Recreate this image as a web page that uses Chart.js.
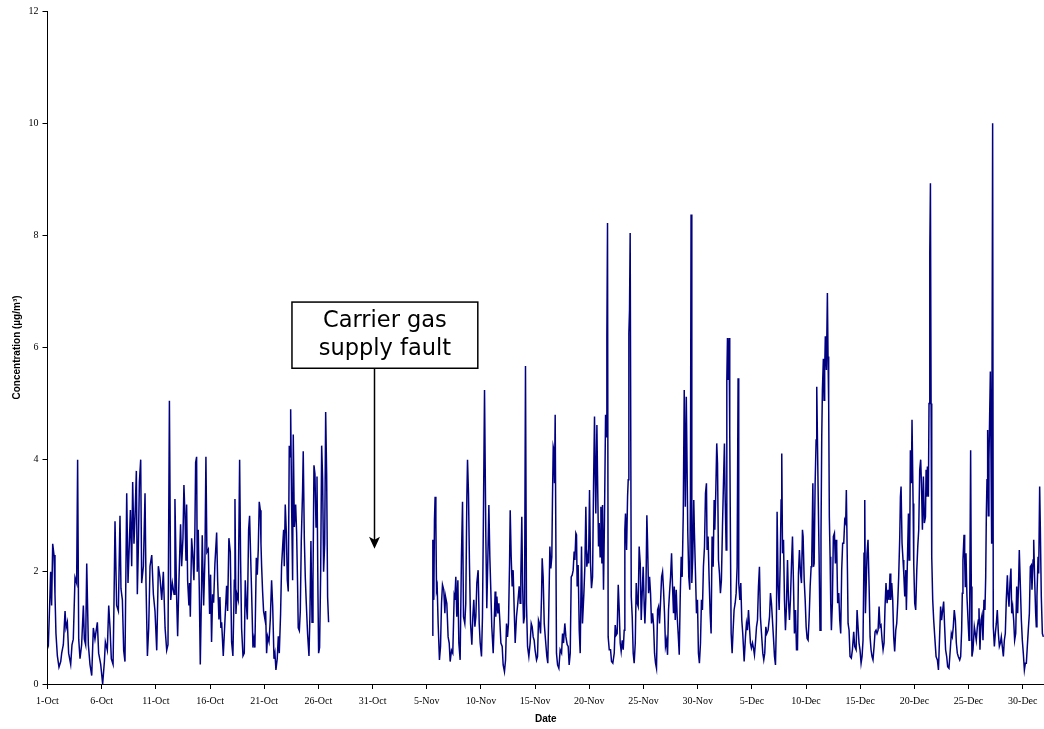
<!DOCTYPE html>
<html>
<head>
<meta charset="utf-8">
<script src="https://cdn.jsdelivr.net/npm/chart.js@4/dist/chart.umd.min.js"></script>
<style>
  html, body { margin: 0; padding: 0; background: #fff; }
  #wrap { width: 1044px; height: 729px; }
</style>
</head>
<body>
<div id="wrap"><canvas id="GraficoConc" width="1044" height="729"></canvas></div>
<script>
// x = days since 1-Oct 00:00, y = concentration (ug/m3)
const octData = [
  [0,0.75],[0.08,0.7],[0.23,1.6],[0.29,2.0],[0.38,1.4],[0.48,2.5],[0.6,2.3],[0.69,1.6],[0.78,0.9],[0.91,0.5],
  [1.06,0.3],[1.22,0.4],[1.31,0.55],[1.46,0.7],[1.62,1.3],[1.71,1.0],[1.83,1.1],[1.95,0.55],[2.14,0.35],[2.26,0.7],
  [2.38,0.8],[2.54,1.9],[2.69,1.8],[2.78,4.0],[2.88,0.8],[3.0,0.45],[3.15,0.7],[3.31,1.4],[3.4,0.8],[3.52,0.7],
  [3.62,2.15],[3.77,0.7],[3.92,0.35],[4.08,0.15],[4.23,1.0],[4.38,0.8],[4.6,1.1],[4.72,0.55],[4.91,0.35],[5.09,0.0],
  [5.25,0.4],[5.34,0.75],[5.52,0.6],[5.65,1.4],[5.77,1.0],[5.89,0.45],[6.05,0.35],[6.14,1.5],[6.23,2.9],[6.38,1.4],
  [6.54,1.3],[6.69,3.0],[6.78,1.7],[6.91,1.5],[7.03,0.6],[7.15,0.4],[7.31,3.4],[7.43,1.8],[7.55,2.5],[7.65,3.1],
  [7.77,2.1],[7.86,3.6],[7.98,2.5],[8.08,3.0],[8.2,3.8],[8.29,1.6],[8.38,2.4],[8.48,3.6],[8.6,4.0],[8.69,1.8],
  [8.85,2.1],[9.0,3.4],[9.09,1.8],[9.22,0.5],[9.34,1.0],[9.46,2.1],[9.62,2.3],[9.77,1.6],[9.92,1.3],[10.08,0.6],
  [10.23,2.1],[10.38,1.9],[10.54,1.5],[10.69,2.0],[10.85,1.0],[11.0,0.6],[11.12,0.7],[11.25,5.05],[11.37,1.5],[11.52,1.8],
  [11.68,1.6],[11.76,3.3],[11.91,1.6],[12.01,0.85],[12.13,1.85],[12.28,2.85],[12.38,2.1],[12.5,2.6],[12.59,3.55],[12.68,3.05],
  [12.78,2.2],[12.84,3.2],[12.93,1.85],[13.05,1.4],[13.11,1.8],[13.18,1.2],[13.3,2.6],[13.39,2.35],[13.51,1.85],[13.6,2.7],
  [13.67,3.95],[13.76,4.05],[13.82,2.0],[13.91,2.75],[14.01,1.65],[14.1,0.35],[14.22,1.75],[14.28,2.65],[14.41,1.4],[14.53,2.25],
  [14.62,4.05],[14.71,2.35],[14.84,2.4],[14.96,1.25],[15.05,1.95],[15.14,0.75],[15.24,1.6],[15.33,1.45],[15.45,2.15],[15.61,2.7],
  [15.7,1.85],[15.82,1.15],[15.91,1.55],[16.0,1.0],[16.07,1.1],[16.22,0.5],[16.38,1.15],[16.53,1.75],[16.62,1.3],[16.74,2.6],
  [16.87,2.35],[16.99,0.75],[17.11,0.5],[17.24,1.85],[17.3,3.3],[17.39,1.25],[17.48,1.6],[17.6,1.5],[17.73,4.0],[17.82,2.2],
  [17.91,1.0],[18.04,0.5],[18.16,0.55],[18.25,1.85],[18.34,1.45],[18.44,1.15],[18.56,2.75],[18.65,3.0],[18.71,2.55],[18.84,1.6],
  [18.96,0.65],[19.05,0.8],[19.14,0.65],[19.27,2.25],[19.36,1.95],[19.45,2.4],[19.54,3.25],[19.64,3.1],[19.7,2.5],[19.76,2.1],
  [19.85,1.65],[19.94,1.3],[20.07,1.15],[20.13,1.3],[20.22,0.55],[20.31,0.85],[20.44,0.75],[20.56,1.15],[20.68,1.85],[20.78,1.4],
  [20.9,0.45],[20.99,0.55],[21.08,0.25],[21.2,0.45],[21.3,0.85],[21.39,0.55],[21.51,1.25],[21.6,2.1],[21.7,2.45],[21.79,2.75],
  [21.85,2.1],[21.94,3.2],[22.04,2.7],[22.13,1.85],[22.22,1.65],[22.31,4.25],[22.38,4.05],[22.44,4.9],[22.53,3.15],[22.62,1.85],
  [22.68,4.45],[22.78,2.8],[22.9,3.2],[22.99,2.7],[23.08,1.75],[23.14,1.0],[23.24,0.95],[23.33,1.3],[23.42,2.55],[23.54,3.45],
  [23.6,4.15],[23.7,2.6],[23.79,1.9],[23.88,1.45],[24.0,0.9],[24.13,0.5],[24.22,1.25],[24.31,2.55],[24.41,1.1],[24.5,1.85],
  [24.59,3.9],[24.68,3.75],[24.78,2.8],[24.87,3.7],[24.96,1.6],[25.02,0.55],[25.11,0.65],[25.21,2.0],[25.3,4.25],[25.39,3.65],
  [25.48,2.0],[25.58,2.5],[25.67,4.85],[25.76,3.75],[25.85,1.55],[25.94,1.1]
];

const novData = [
  [35.5,0.87],[35.56,2.57],[35.65,1.5],[35.71,2.92],[35.77,3.34],[35.84,2.87],[35.9,1.68],[35.96,1.74],[36.05,1.08],[36.17,0.43],
  [36.27,0.67],[36.36,1.44],[36.45,1.77],[36.57,1.68],[36.67,1.26],[36.73,1.56],[36.85,1.44],[36.97,0.84],[37.07,0.73],[37.16,0.4],
  [37.28,0.6],[37.4,0.55],[37.53,1.56],[37.59,1.5],[37.68,1.91],[37.77,1.2],[37.87,1.85],[37.96,0.73],[38.08,0.43],[38.2,2.27],
  [38.3,3.25],[38.39,1.2],[38.51,1.08],[38.6,1.44],[38.7,3.34],[38.76,4.0],[38.85,3.4],[38.94,2.15],[39.04,1.08],[39.16,0.7],
  [39.25,1.2],[39.34,1.5],[39.44,1.02],[39.53,1.2],[39.62,1.8],[39.74,2.03],[39.84,1.08],[39.93,0.73],[40.05,0.49],[40.14,1.2],
  [40.24,3.22],[40.33,5.24],[40.45,2.63],[40.54,1.35],[40.64,2.27],[40.73,3.19],[40.82,2.27],[40.91,1.68],[41.0,1.02],[41.13,0.55],
  [41.22,1.08],[41.31,1.65],[41.37,1.2],[41.47,1.56],[41.56,1.26],[41.65,1.44],[41.74,1.14],[41.84,0.73],[41.96,0.67],[42.05,0.34],
  [42.17,0.22],[42.27,0.43],[42.36,1.08],[42.45,0.84],[42.54,1.08],[42.64,2.15],[42.7,3.1],[42.79,2.27],[42.88,1.74],[42.97,2.03],
  [43.07,1.32],[43.16,0.73],[43.28,1.2],[43.4,1.44],[43.53,1.74],[43.62,1.44],[43.68,1.91],[43.77,2.98],[43.84,1.8],[43.93,1.08],
  [44.02,1.2],[44.11,5.67],[44.2,1.44],[44.3,0.67],[44.42,0.49],[44.54,0.73],[44.64,1.08],[44.73,1.02],[44.82,0.84],[44.91,0.78],
  [45.0,0.6],[45.13,0.43],[45.22,0.49],[45.31,1.14],[45.4,1.08],[45.5,0.9],[45.59,1.56],[45.65,2.24],[45.74,1.91],[45.84,1.08],
  [45.96,0.78],[46.08,0.49],[46.17,0.37],[46.27,1.44],[46.36,2.45],[46.45,2.06],[46.54,2.27],[46.6,3.28],[46.67,4.23],[46.73,4.17],
  [46.79,3.58],[46.85,4.8],[46.97,0.55],[47.07,0.34],[47.19,0.28],[47.31,0.61],[47.44,0.55],[47.53,0.9],[47.62,0.73],[47.74,1.08],
  [47.84,0.84],[47.96,0.7],[48.05,0.67],[48.14,0.34],[48.24,0.55],[48.33,1.91],[48.42,1.94],[48.51,2.03],[48.6,2.36],[48.67,2.21],
  [48.76,2.69],[48.82,2.66],[48.88,1.74],[48.97,2.12],[49.07,0.96],[49.16,0.55],[49.28,2.45],[49.37,1.08],[49.5,1.62],[49.59,2.09],
  [49.68,3.16],[49.77,2.09],[49.87,2.27],[49.93,2.15],[50.02,3.46],[50.11,2.15],[50.2,1.71],[50.3,1.91],[50.39,3.52],[50.48,4.77],
  [50.54,3.82],[50.6,3.04],[50.7,4.62],[50.76,3.7],[50.85,2.45],[50.91,2.87],[51.0,2.27],[51.07,3.16],[51.16,2.15],[51.22,3.19],
  [51.31,1.68],[51.4,2.93],[51.5,4.8],[51.56,4.41],[51.62,6.2],[51.68,8.22],[51.74,0.84],[51.84,0.61],[51.96,0.61],[52.05,0.4],
  [52.17,0.37],[52.3,0.55],[52.39,1.05],[52.48,0.87],[52.57,0.9],[52.67,1.77],[52.76,1.32],[52.85,0.73],[52.94,0.58],[53.04,0.78],
  [53.13,0.61],[53.22,0.96],[53.28,2.75],[53.34,3.04],[53.44,2.39],[53.53,3.34],[53.59,3.64],[53.65,6.25],[53.71,6.67],[53.77,8.04],
  [53.87,1.56],[53.96,1.2],[54.05,0.55],[54.14,0.37],[54.24,0.73],[54.33,1.8],[54.42,1.44],[54.51,1.38],[54.6,2.45],[54.7,2.15],
  [54.79,1.14],[54.88,1.62],[54.97,2.09],[55.07,1.38],[55.13,1.08],[55.22,1.56],[55.31,3.01],[55.37,2.57],[55.47,1.62],[55.56,1.91],
  [55.65,1.62],[55.74,1.08],[55.84,1.26],[55.93,1.05],[56.02,0.55],[56.11,0.37],[56.2,0.28],[56.3,1.32],[56.39,1.38],[56.48,1.08],
  [56.57,1.44],[56.67,1.91],[56.76,2.0],[56.85,1.68],[56.94,1.26],[57.03,0.67],[57.13,0.78],[57.22,0.52],[57.31,1.32],[57.4,1.62],
  [57.5,1.91],[57.59,2.33],[57.68,1.74],[57.77,1.26],[57.84,1.74],[57.93,1.14],[58.02,1.68],[58.11,1.2],[58.2,0.9],[58.3,0.52],
  [58.39,1.56],[58.48,2.27],[58.57,1.91],[58.67,3.04],[58.76,5.24],[58.86,3.16],[58.95,5.12],[59.09,2.69],[59.18,1.91],[59.27,1.68],
  [59.33,3.28],[59.39,8.37],[59.46,1.8],[59.55,2.27],[59.64,3.28],[59.7,2.69],[59.79,2.03],[59.89,1.26],[59.98,1.5]
];

const decData = [
  [60.07,0.55],[60.16,0.37],[60.26,0.73],[60.35,1.5],[60.44,1.32],[60.53,2.09],[60.63,2.45],[60.72,3.4],[60.81,3.58],[60.87,2.39],
  [60.96,2.63],[61.06,1.85],[61.15,1.26],[61.24,0.9],[61.33,2.63],[61.43,2.09],[61.52,3.28],[61.58,2.75],[61.67,3.4],[61.76,4.29],
  [61.83,3.94],[61.92,2.21],[62.01,1.97],[62.1,1.62],[62.19,1.85],[62.29,2.81],[62.38,3.58],[62.47,4.29],[62.53,3.4],[62.63,2.39],
  [62.69,5.42],[62.75,6.17],[62.81,5.42],[62.9,6.17],[62.96,4.47],[63.03,2.39],[63.09,0.9],[63.18,0.55],[63.27,0.96],[63.36,1.32],
  [63.46,1.44],[63.55,1.62],[63.64,2.09],[63.73,5.45],[63.79,1.8],[63.89,1.5],[63.98,1.8],[64.07,1.14],[64.16,0.9],[64.29,0.4],
  [64.41,0.84],[64.5,1.08],[64.59,0.96],[64.69,1.32],[64.78,1.02],[64.87,0.73],[64.96,0.64],[65.06,0.73],[65.15,0.64],[65.24,0.52],
  [65.33,0.73],[65.43,1.02],[65.52,1.14],[65.61,1.74],[65.7,2.09],[65.79,1.2],[65.89,0.9],[66.01,0.55],[66.1,0.43],[66.19,0.55],
  [66.29,1.02],[66.38,0.9],[66.5,0.96],[66.63,1.2],[66.72,1.62],[66.81,1.44],[66.9,1.14],[66.99,0.84],[67.09,0.49],[67.18,0.34],
  [67.27,1.14],[67.33,3.07],[67.43,1.74],[67.52,1.32],[67.61,2.09],[67.7,3.28],[67.76,4.11],[67.83,2.33],[67.92,2.57],[68.01,1.5],
  [68.1,0.96],[68.19,1.38],[68.29,2.21],[68.38,1.5],[68.47,1.14],[68.56,1.5],[68.66,2.15],[68.75,2.63],[68.84,1.8],[68.93,0.9],
  [69.03,1.32],[69.12,0.61],[69.21,0.61],[69.3,1.97],[69.39,2.39],[69.49,1.97],[69.58,1.8],[69.67,2.75],[69.73,2.63],[69.83,1.85],
  [69.92,1.5],[70.01,1.02],[70.1,0.81],[70.19,0.78],[70.29,1.2],[70.38,1.74],[70.47,2.09],[70.53,2.24],[70.63,3.58],[70.69,2.09],
  [70.75,2.15],[70.84,3.58],[70.93,4.35],[70.99,5.3],[71.11,3.52],[71.2,2.33],[71.29,0.96],[71.38,2.63],[71.45,4.41],[71.51,5.24],
  [71.6,5.8],[71.66,5.06],[71.72,5.6],[71.78,6.2],[71.88,5.6],[71.97,6.97],[72.03,5.84],[72.09,5.0],[72.15,2.98],[72.22,2.27],
  [72.28,1.44],[72.34,0.96],[72.43,1.44],[72.52,2.63],[72.62,2.69],[72.71,2.15],[72.77,2.57],[72.83,2.45],[72.92,1.44],[73.02,1.62],
  [73.11,1.14],[73.2,0.9],[73.29,2.03],[73.38,2.51],[73.48,2.51],[73.57,2.92],[73.66,2.87],[73.72,3.46],[73.82,2.03],[73.88,1.08],
  [73.97,0.96],[74.06,0.49],[74.18,0.46],[74.28,0.61],[74.4,0.93],[74.49,0.67],[74.62,0.61],[74.71,1.32],[74.8,1.02],[74.89,0.73],
  [74.98,0.61],[75.08,0.37],[75.17,0.49],[75.26,0.78],[75.35,2.33],[75.42,3.28],[75.48,1.26],[75.57,1.91],[75.63,2.33],[75.72,2.57],
  [75.82,1.74],[75.91,0.84],[76.0,0.61],[76.09,0.49],[76.18,0.43],[76.28,0.67],[76.37,0.93],[76.46,0.96],[76.55,0.9],[76.65,0.96],
  [76.74,1.38],[76.83,1.02],[76.92,1.05],[77.02,0.78],[77.11,0.61],[77.2,0.73],[77.29,1.38],[77.38,1.8],[77.48,1.44],[77.57,1.68],
  [77.66,1.5],[77.75,1.97],[77.82,1.5],[77.91,1.8],[78.0,1.5],[78.09,0.84],[78.18,0.58],[78.28,0.96],[78.37,1.08],[78.46,1.44],
  [78.55,1.91],[78.65,2.63],[78.71,3.34],[78.77,3.52],[78.86,2.51],[78.95,2.21],[79.02,1.97],[79.11,1.56],[79.2,2.03],[79.26,1.32],
  [79.35,2.15],[79.45,3.04],[79.51,2.21],[79.57,2.51],[79.63,4.17],[79.72,3.58],[79.78,4.71],[79.88,3.22],[79.94,2.15],[80.03,1.44],
  [80.12,1.32],[80.22,2.03],[80.31,2.45],[80.4,2.75],[80.49,3.82],[80.58,4.0],[80.65,3.58],[80.74,2.75],[80.83,3.7],[80.92,2.87],
  [81.02,2.98],[81.08,3.82],[81.14,3.34],[81.2,3.88],[81.29,3.34],[81.35,5.0],[81.42,7.68],[81.48,8.93],[81.54,5.0],[81.6,2.27],
  [81.69,1.5],[81.78,1.14],[81.88,0.84],[82.0,0.49],[82.12,0.43],[82.22,0.25],[82.42,1.38],[82.51,1.14],[82.61,1.32],[82.7,1.47],
  [82.79,1.02],[82.88,0.61],[82.98,0.49],[83.07,0.31],[83.19,0.28],[83.31,0.61],[83.41,0.9],[83.5,0.84],[83.59,1.02],[83.68,1.32],
  [83.78,1.14],[83.87,0.73],[83.96,0.55],[84.05,0.49],[84.18,0.43],[84.27,0.49],[84.36,0.96],[84.42,1.62],[84.48,2.21],[84.58,2.66],
  [84.64,2.21],[84.7,1.74],[84.76,2.33],[84.85,1.56],[84.95,1.14],[85.04,0.78],[85.1,1.26],[85.19,4.17],[85.25,1.74],[85.31,0.49],
  [85.41,0.61],[85.53,1.02],[85.62,0.9],[85.71,0.78],[85.81,1.02],[85.9,1.14],[85.96,1.35],[86.05,0.61],[86.15,1.14],[86.24,1.23],
  [86.33,0.78],[86.42,1.5],[86.51,1.32],[86.58,1.91],[86.64,3.04],[86.7,3.64],[86.76,4.53],[86.82,3.0],[86.88,4.0],[87.01,5.57],
  [87.13,2.5],[87.22,10.0],[87.28,1.02],[87.38,0.67],[87.47,0.9],[87.56,1.08],[87.65,1.32],[87.75,0.9],[87.84,0.67],[87.93,0.73],
  [88.02,0.84],[88.11,0.67],[88.21,0.49],[88.3,0.78],[88.39,0.9],[88.48,1.5],[88.58,1.94],[88.64,1.62],[88.73,1.38],[88.82,1.8],
  [88.91,2.06],[88.98,1.26],[89.07,1.38],[89.16,1.14],[89.25,0.78],[89.35,0.9],[89.44,1.74],[89.53,1.26],[89.62,1.85],[89.68,2.39],
  [89.78,1.74],[89.87,1.14],[89.96,0.78],[90.05,0.55],[90.15,0.25],[90.24,0.37],[90.33,0.37],[90.42,0.67],[90.51,0.96],[90.61,1.26],
  [90.7,2.09],[90.79,2.12],[90.85,1.68],[90.95,2.21],[91.01,2.57],[91.1,1.85],[91.19,1.26],[91.25,1.02],[91.31,1.56],[91.41,2.27],
  [91.47,1.97],[91.56,3.52],[91.62,2.8],[91.71,1.56],[91.81,0.9],[91.9,0.84]
];

// x axis: a tick every 5 days
const tickDays = [0,5,10,15,20,25,30,35,40,45,50,55,60,65,70,75,80,85,90];
const tickLabels = ['1-Oct','6-Oct','11-Oct','16-Oct','21-Oct','26-Oct','31-Oct','5-Nov','10-Nov','15-Nov',
  '20-Nov','25-Nov','30-Nov','5-Dec','10-Dec','15-Dec','20-Dec','25-Dec','30-Dec'];
const yTicks = [0,2,4,6,8,10,12];

// annotation box and arrow, in chart units (days / ug/m3)
const faultNote = {
  lines: ['Carrier gas', 'supply fault'],
  left: 22.56, right: 39.71, top: 6.81, bottom: 5.63,
  arrowDay: 30.1, arrowTo: 2.41
};

function toPoints(pares) {
  return pares.map(p => ({x: p[0], y: p[1]}));
}

// the fault gap stays empty (null breaks the line)
const serie = toPoints(octData).concat([{x: 30, y: null}], toPoints(novData), toPoints(decData));

const notaPlugin = {
  id: 'faultNote',
  afterDraw(chart) {
    const ctx = chart.ctx;
    const x = chart.scales.x, y = chart.scales.y;
    const l = x.getPixelForValue(faultNote.left), r = x.getPixelForValue(faultNote.right);
    const t = y.getPixelForValue(faultNote.top), b = y.getPixelForValue(faultNote.bottom);
    const ax = Math.round(x.getPixelForValue(faultNote.arrowDay)) + 0.5;
    const ay = y.getPixelForValue(faultNote.arrowTo);
    ctx.save();
    // arrow
    ctx.strokeStyle = '#000';
    ctx.fillStyle = '#000';
    ctx.lineWidth = 1.5;
    ctx.beginPath();
    ctx.moveTo(ax, b);
    ctx.lineTo(ax, ay - 8);
    ctx.stroke();
    ctx.beginPath();
    ctx.moveTo(ax, ay);
    ctx.lineTo(ax - 5.5, ay - 12);
    ctx.lineTo(ax, ay - 9);
    ctx.lineTo(ax + 5.5, ay - 12);
    ctx.closePath();
    ctx.fill();
    // box
    ctx.fillStyle = '#fff';
    ctx.fillRect(l, t, r - l, b - t);
    ctx.strokeRect(l, t, r - l, b - t);
    // text
    ctx.fillStyle = '#000';
    ctx.font = '22.5px "DejaVu Sans", Verdana, sans-serif';
    ctx.textAlign = 'center';
    ctx.textBaseline = 'middle';
    const cx = (l + r) / 2;
    ctx.fillText(faultNote.lines[0], cx, t + 19.5);
    ctx.fillText(faultNote.lines[1], cx, t + 47);
    ctx.restore();
  }
};

const grafico = document.getElementById('GraficoConc');

const graficoConc = new Chart(grafico, {
  type: 'line',
  data: {
    datasets: [{
      label: 'Concentration',
      data: serie,
      borderColor: '#000080',
      borderWidth: 1.5,
      pointRadius: 0,
      tension: 0,
      spanGaps: false,
      fill: false
    }]
  },
  options: {
    responsive: false,
    animation: false,
    devicePixelRatio: 1,
    layout: { padding: { top: 11, right: 0, bottom: 0, left: 0 } },
    plugins: {
      legend: { display: false },
      tooltip: { enabled: false }
    },
    scales: {
      x: {
        type: 'linear',
        min: 0,
        max: 91.96,
        afterFit: (scale) => { scale.height = 45; },
        afterBuildTicks: (scale) => { scale.ticks = tickDays.map(v => ({value: v})); },
        ticks: {
          autoSkip: false,
          maxRotation: 0,
          padding: 6,
          color: '#000',
          font: { family: '"Liberation Serif", "Times New Roman", serif', size: 10 },
          callback: (value) => tickLabels[tickDays.indexOf(value)]
        },
        grid: { display: true, drawOnChartArea: false, drawTicks: true, tickLength: 5, color: '#000' },
        border: { display: true, color: '#000', width: 1 },
        title: {
          display: true,
          text: 'Date',
          color: '#000',
          padding: { top: 0, bottom: 4 },
          font: { family: '"Liberation Sans Narrow", "Liberation Sans", Arial, sans-serif', size: 10, weight: 'bold' }
        }
      },
      y: {
        min: 0,
        max: 12,
        afterFit: (scale) => { scale.width = 47.5; },
        afterBuildTicks: (scale) => { scale.ticks = yTicks.map(v => ({value: v})); },
        ticks: {
          padding: 4,
          color: '#000',
          font: { family: '"Liberation Serif", "Times New Roman", serif', size: 10 }
        },
        grid: { display: true, drawOnChartArea: false, drawTicks: true, tickLength: 5, color: '#000' },
        border: { display: true, color: '#000', width: 1 },
        title: {
          display: true,
          text: 'Concentration (µg/m³)',
          color: '#000',
          padding: { top: 11, bottom: 0 },
          font: { family: '"Liberation Sans Narrow", "Liberation Sans", Arial, sans-serif', size: 10, weight: 'bold' }
        }
      }
    }
  },
  plugins: [notaPlugin]
});
</script>
</body>
</html>
